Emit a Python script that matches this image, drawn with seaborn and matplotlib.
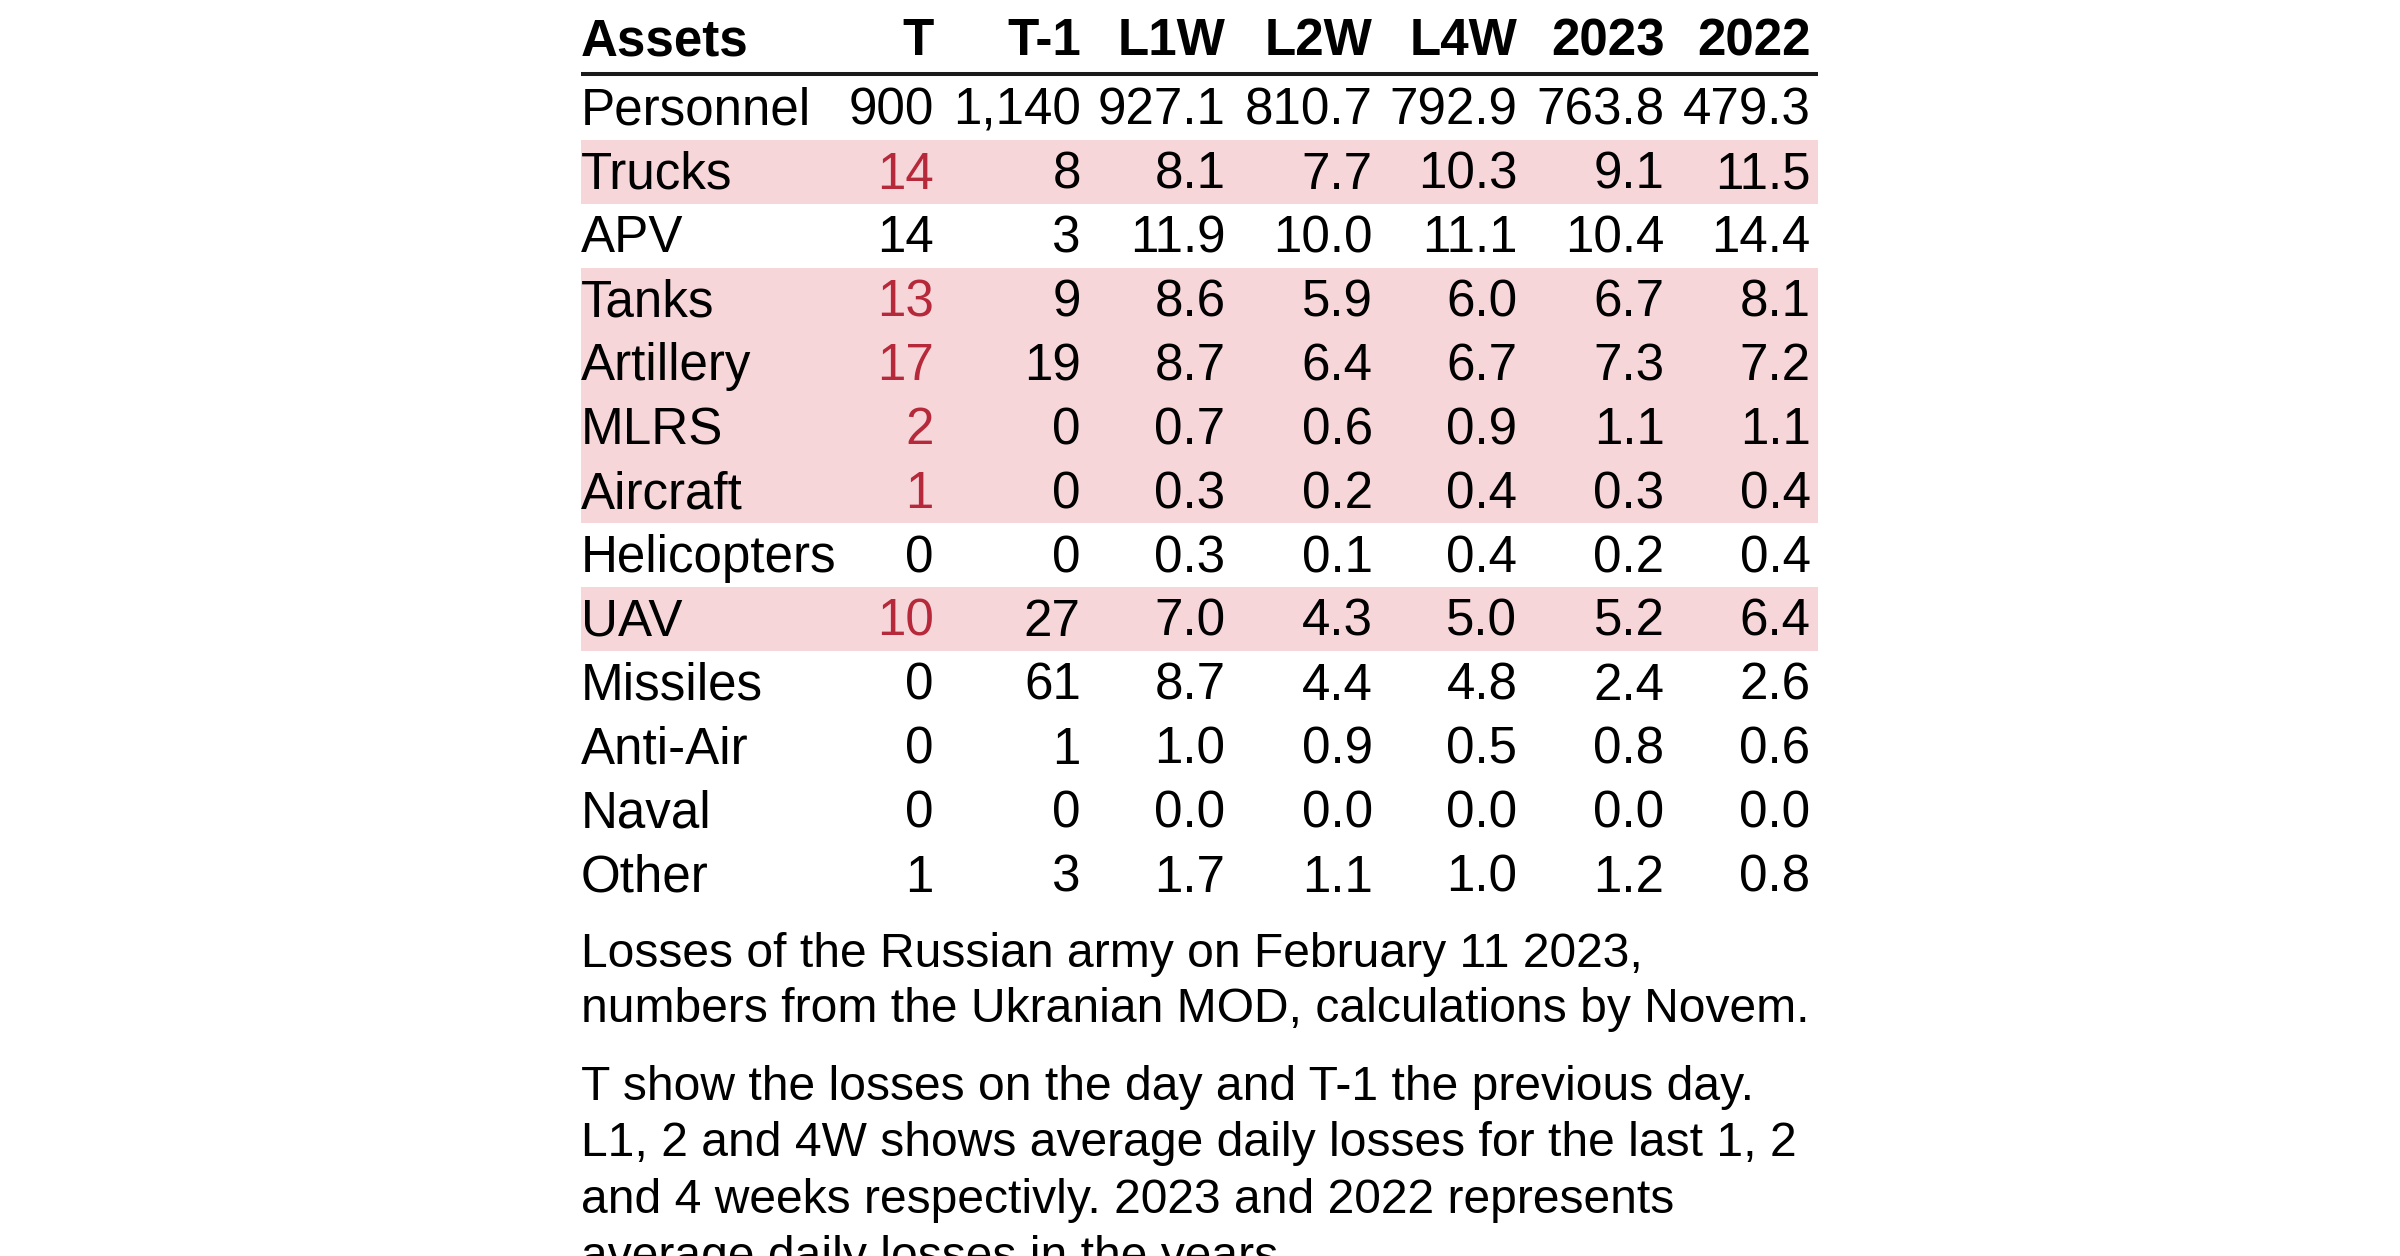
import matplotlib
matplotlib.use("Agg")
import matplotlib.pyplot as plt
import seaborn as sns
import pandas as pd

# Datos de la tabla
assets = ["Personnel", "Trucks", "APV", "Tanks", "Artillery", "MLRS", "Aircraft",
          "Helicopters", "UAV", "Missiles", "Anti-Air", "Naval", "Other"]
t_day = [900, 14, 14, 13, 17, 2, 1, 0, 10, 0, 0, 0, 1]
t_prev = [1140, 8, 3, 9, 19, 0, 0, 0, 27, 61, 1, 0, 3]
l1w = [927.1, 8.1, 11.9, 8.6, 8.7, 0.7, 0.3, 0.3, 7.0, 8.7, 1.0, 0.0, 1.7]
l2w = [810.7, 7.7, 10.0, 5.9, 6.4, 0.6, 0.2, 0.1, 4.3, 4.4, 0.9, 0.0, 1.1]
l4w = [792.9, 10.3, 11.1, 6.0, 6.7, 0.9, 0.4, 0.4, 5.0, 4.8, 0.5, 0.0, 1.0]
avg_2023 = [763.8, 9.1, 10.4, 6.7, 7.3, 1.1, 0.3, 0.2, 5.2, 2.4, 0.8, 0.0, 1.2]
avg_2022 = [479.3, 11.5, 14.4, 8.1, 7.2, 1.1, 0.4, 0.4, 6.4, 2.6, 0.6, 0.0, 0.8]

headers = ["Assets", "T", "T-1", "L1W", "L2W", "L4W", "2023", "2022"]

caption_1 = ["Losses of the Russian army on February 11 2023,",
             "numbers from the Ukranian MOD, calculations by Novem."]
caption_2 = ["T show the losses on the day and T-1 the previous day.",
             "L1, 2 and 4W shows average daily losses for the last 1, 2",
             "and 4 weeks respectivly. 2023 and 2022 represents",
             "average daily losses in the years."]

df = pd.DataFrame({"Assets": assets, "T": t_day, "T-1": t_prev, "L1W": l1w,
                   "L2W": l2w, "L4W": l4w, "2023": avg_2023, "2022": avg_2022})

# Fila resaltada si las perdidas del dia superan todos los promedios
promedios = df[["L1W", "L2W", "L4W", "2023", "2022"]].max(axis=1)
df["resaltado"] = (df["T"] > promedios).astype(int)

sns.set_style("white")
plt.rcParams["font.family"] = ["Liberation Sans", "DejaVu Sans"]

ROSA = "#f7d6da"
ROJO = "#b5293a"
FS = 36.8

fig = plt.figure(figsize=(24, 12.56), dpi=100)
ax = fig.add_axes([0, 0, 1, 1])

# Bandas de fondo para las filas resaltadas
sns.barplot(data=df, x="resaltado", y="Assets", orient="h", color=ROSA,
            saturation=1, width=1.0, linewidth=0, ax=ax)

ax.set_xlim(-0.4697, 1.4705)
ax.set_ylim(17.96, -1.69)
ax.axis("off")

# posiciones de columnas (fraccion del ancho de la tabla, borde derecho)
col_x = [0.0, 0.285, 0.404, 0.521, 0.640, 0.757, 0.876, 0.994]
off = 0.26

# Encabezados
for j, h in enumerate(headers):
    ax.text(col_x[j], -0.823, h, ha="left" if j == 0 else "right",
            va="baseline", fontsize=FS, fontweight="bold", color="black")
ax.hlines(-0.54, 0, 1, color="#1a1a1a", linewidth=2.9)

for i, row in df.iterrows():
    ax.text(col_x[0], i + off, row["Assets"], ha="left", va="baseline",
            fontsize=FS, color="black")
    valores = [f"{int(row['T']):,}", f"{int(row['T-1']):,}",
               f"{row['L1W']:.1f}", f"{row['L2W']:.1f}", f"{row['L4W']:.1f}",
               f"{row['2023']:.1f}", f"{row['2022']:.1f}"]
    for j, v in enumerate(valores, start=1):
        color = ROJO if (j == 1 and row["resaltado"] == 1) else "black"
        ax.text(col_x[j], i + off, v, ha="right", va="baseline",
                fontsize=FS, color=color)

# Texto descriptivo (la ultima linea queda cortada como en el original)
x0 = 581 / 2400
for k, linea in enumerate(caption_1):
    fig.text(x0, 1 - (967 + 55 * k) / 1256, linea, ha="left", va="baseline",
             fontsize=34.6, color="black")
for k, linea in enumerate(caption_2):
    fig.text(x0, 1 - (1100 + 56.5 * k) / 1256, linea, ha="left", va="baseline",
             fontsize=34.6, color="black")

plt.savefig("out.png", dpi=100)
plt.close()
